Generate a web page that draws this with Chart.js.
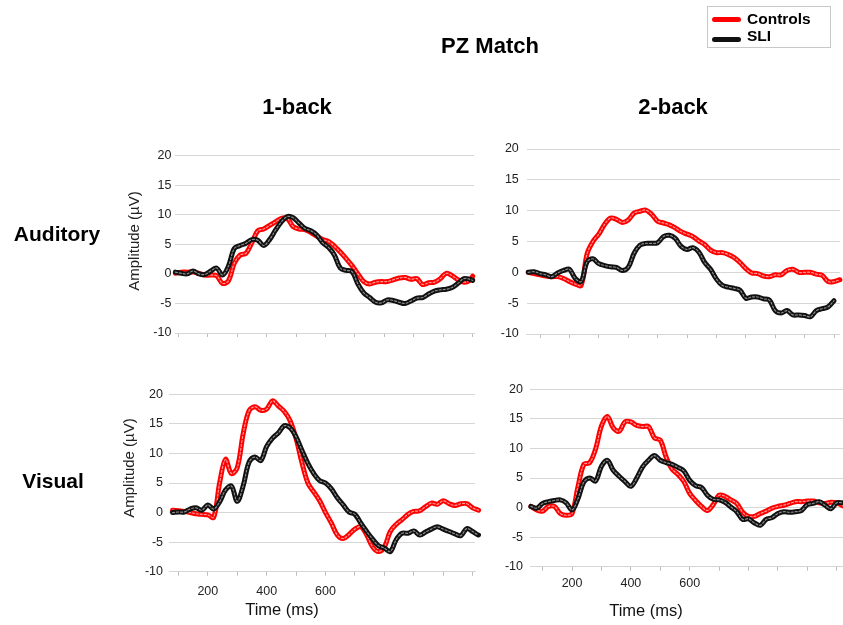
<!DOCTYPE html>
<html>
<head>
<meta charset="utf-8">
<script src="https://cdn.jsdelivr.net/npm/chart.js@4.4.1/dist/chart.umd.min.js"></script>
<style>
  html, body { margin: 0; padding: 0; background: #fff; width: 843px; height: 625px; overflow: hidden; position: relative; }
  canvas { position: absolute; left: 0; top: 0; }
  .lbl { position: absolute; transform: translate(-50%, -50%); white-space: nowrap; font-family: "Liberation Sans", Arial, sans-serif; color: #000; }
  .bold { font-weight: bold; font-size: 22px; }
  .ytitle { font-size: 15px; color: #222; transform: translate(-50%, -50%) rotate(-90deg); }
  .xtitle { font-size: 16.5px; color: #111; }
  #legend { position: absolute; left: 707px; top: 6px; width: 122px; height: 40px; border: 1px solid #c8c8c8; }
  .lgline { position: absolute; left: 4px; width: 29px; height: 5px; border-radius: 3px; }
  .lgtext { position: absolute; left: 39px; font: bold 15.5px "Liberation Sans", Arial, sans-serif; transform: translateY(-50%); }
</style>
</head>
<body>
<canvas id="c1" width="860" height="625"></canvas>
<canvas id="c2" width="860" height="625"></canvas>
<canvas id="c3" width="860" height="625"></canvas>
<canvas id="c4" width="860" height="625"></canvas>

<div class="lbl bold" style="left:490px; top:46px;">PZ Match</div>
<div class="lbl bold" style="left:297px; top:107px;">1-back</div>
<div class="lbl bold" style="left:673px; top:107px;">2-back</div>
<div class="lbl bold" style="left:57px; top:234px; font-size:21px;">Auditory</div>
<div class="lbl bold" style="left:53px; top:481px; font-size:21px;">Visual</div>
<div class="lbl ytitle" style="left:133px; top:241px;">Amplitude (µV)</div>
<div class="lbl ytitle" style="left:128px; top:468px;">Amplitude (µV)</div>
<div class="lbl xtitle" style="left:282px; top:609px;">Time (ms)</div>
<div class="lbl xtitle" style="left:646px; top:610px;">Time (ms)</div>

<div id="legend">
  <div class="lgline" style="top:10px; background:#ff0000;"></div>
  <div class="lgtext" style="top:12px;">Controls</div>
  <div class="lgline" style="top:30px; background:#111;"></div>
  <div class="lgtext" style="top:29px;">SLI</div>
</div>

<script>
// ---------- data (ms, µV) ----------
const seriesNames = ["Controls", "SLI"];
const yTicks = [-10, -5, 0, 5, 10, 15, 20];
const xTickLabels = [200, 400, 600];

// Auditory 1-back
const aud1Time = [90,110,130,150,170,190,210,230,250,270,290,310,330,350,370,390,410,430,450,470,490,510,530,550,570,590,610,630,650,670,690,710,730,750,770,790,810,830,850,870,890,910,930,950,970,990,1010,1030,1050,1070,1090,1100];
const aud1Ctrl = [0.1,0.3,0.3,0.3,0.1,-0.2,-0.2,-0.3,-1.6,-1.2,1.8,3.2,3.5,5.3,7.3,7.6,8.2,8.8,9.4,9.4,8.0,7.6,7.5,7.0,6.4,5.8,5.5,4.7,3.7,2.6,1.4,0.0,-1.3,-1.7,-1.4,-1.3,-1.3,-1.0,-0.7,-0.6,-0.9,-0.8,-1.8,-1.5,-1.4,-0.8,0.1,-0.3,-1.0,-1.4,-1.1,-0.4];
const aud1Sli  = [0.3,0.1,0.0,0.5,0.0,-0.1,0.5,1.0,-0.2,1.3,4.3,4.8,5.2,5.8,5.7,4.8,5.8,7.4,8.8,9.7,9.5,8.6,7.7,7.3,6.6,5.3,4.5,3.2,1.0,0.6,0.4,-1.7,-3.2,-4.0,-4.8,-4.9,-4.4,-4.5,-4.8,-5.0,-4.6,-4.1,-4.0,-3.4,-2.9,-2.7,-2.6,-2.3,-1.6,-0.8,-0.9,-1.1];

// Auditory 2-back
const aud2Time = [60,80,100,120,140,160,180,200,220,240,260,280,300,320,340,360,380,400,420,440,460,480,500,520,540,560,580,600,620,640,660,680,700,720,740,760,780,800,820,840,860,880,900,920,940,960,980,1000,1020,1040,1060,1080,1100,1120];
const aud2Ctrl = [0.0,-0.2,-0.4,-0.6,-0.7,-0.7,-1.0,-1.5,-1.9,-2.1,3.0,5.0,6.2,7.8,8.8,8.6,8.1,8.5,9.6,9.9,10.1,9.4,8.3,8.0,7.7,7.2,6.6,6.2,5.8,5.1,4.5,3.6,3.2,3.2,2.9,2.4,1.6,0.6,-0.1,-0.2,-0.6,-0.7,-0.4,-0.4,0.3,0.5,0.0,0.0,0.0,-0.3,-0.5,-1.5,-1.5,-1.2];
const aud2Sli  = [0.0,0.1,-0.2,-0.4,-0.7,-0.1,0.3,0.5,-1.0,-1.5,1.7,2.2,1.4,1.1,0.9,0.8,0.3,0.8,3.1,4.4,4.7,4.7,4.8,5.8,6.0,5.5,4.2,3.7,4.0,3.3,1.6,0.5,-1.1,-2.1,-2.4,-2.6,-2.9,-4.2,-4.0,-4.0,-4.3,-4.5,-6.2,-6.6,-6.2,-6.9,-6.9,-7.0,-7.2,-6.2,-5.9,-5.6,-4.6,null];

// Visual 1-back
const vis1Time = [80,100,120,140,160,180,200,220,240,260,280,300,320,340,360,380,400,420,440,460,480,500,520,540,560,580,600,620,640,660,680,700,720,740,760,780,800,820,840,860,880,900,920,940,960,980,1000,1020,1040,1060,1080,1100,1120,1135];
const vis1Ctrl = [0.4,0.3,0.2,0.0,-0.2,-0.3,-0.4,-0.8,5.0,9.0,6.6,7.6,13.3,17.2,17.9,17.3,17.5,18.9,18.0,17.1,15.5,12.5,8.4,5.0,3.5,2.0,0.0,-1.8,-3.8,-4.4,-3.7,-2.8,-2.4,-3.8,-5.8,-6.6,-5.8,-3.2,-2.0,-1.2,-0.3,0.2,0.3,1.0,1.6,1.4,2.0,1.5,1.2,1.5,1.5,0.8,0.4,null];
const vis1Sli  = [0.0,0.1,0.1,0.6,0.8,0.4,1.3,0.6,1.8,3.8,4.5,1.9,4.5,8.5,9.4,8.8,11.2,12.6,13.5,14.7,14.3,12.8,10.5,8.3,6.6,5.4,5.0,4.0,2.5,1.3,0.1,-0.3,-1.8,-3.2,-4.5,-5.6,-6.0,-6.6,-4.6,-3.5,-3.5,-3.1,-3.8,-3.3,-2.8,-2.4,-2.8,-3.2,-3.6,-3.9,-2.7,-3.2,-3.8,-3.8];

// Visual 2-back
const vis2Time = [60,80,100,120,140,160,180,200,220,240,260,280,300,320,340,360,380,400,420,440,460,480,500,520,540,560,580,600,620,640,660,680,700,720,740,760,780,800,820,840,860,880,900,920,940,960,980,1000,1020,1040,1060,1080,1100,1120];
const vis2Ctrl = [0.2,-0.4,-0.6,0.2,0.2,-1.0,-1.3,-1.0,3.5,7.3,7.6,9.9,13.8,15.4,13.5,12.9,14.5,14.5,13.9,13.7,13.7,11.8,11.4,8.5,6.5,5.6,4.4,2.4,1.2,0.2,-0.5,0.5,2.1,1.9,1.3,0.7,-0.8,-1.5,-1.5,-1.0,-0.6,-0.1,0.2,0.4,0.7,1.0,1.0,1.1,1.1,0.8,0.7,0.9,0.8,0.3];
const vis2Sli  = [0.2,-0.1,0.7,1.0,1.2,1.3,0.8,-0.4,1.5,4.3,5.0,4.5,7.0,8.0,6.3,5.3,4.4,3.6,5.0,6.9,8.0,8.8,8.0,7.6,7.3,6.8,6.2,4.6,3.7,3.4,2.1,1.4,1.3,0.9,0.1,-0.7,-2.0,-1.9,-2.6,-3.0,-2.0,-1.7,-1.0,-0.7,-0.8,-0.7,-0.5,0.5,0.7,1.0,0.4,-0.2,0.8,0.8];

// ---------- layout / style (pixels) ----------
const CW = 860, CH = 625, YW = 45, XH = 30;
const panels = [
  { id: "c1", time: aud1Time, ctrl: aud1Ctrl, sli: aud1Sli, L: 175.4, R: 474.2, T: 155.7, B: 333.0, xmin: 90, xmax: 1105, ypad: 4, xpad: 8, showX: false },
  { id: "c2", time: aud2Time, ctrl: aud2Ctrl, sli: aud2Sli, L: 526.8, R: 839.9, T: 149.0, B: 334.0, xmin: 55, xmax: 1120, ypad: 8, xpad: 8, showX: false },
  { id: "c3", time: vis1Time, ctrl: vis1Ctrl, sli: vis1Sli, L: 169.0, R: 475.0, T: 394.3, B: 571.7, xmin: 68, xmax: 1108, ypad: 6, xpad: 8.5, showX: true },
  { id: "c4", time: vis2Time, ctrl: vis2Ctrl, sli: vis2Sli, L: 530.0, R: 850.0, T: 389.3, B: 566.7, xmin: 57, xmax: 1145, ypad: 7, xpad: 5, showX: true }
];

const tickFont = { family: "'Liberation Sans', Arial, sans-serif", size: 12.5 };
const gridColor = "#d6d6d6";

function lineDs(label, data, color, width, dash) {
  return {
    label, data,
    borderColor: color, backgroundColor: color,
    borderWidth: width, borderDash: dash || [],
    pointRadius: 0, tension: 0.35, fill: false,
    clip: false, spanGaps: false,
    borderCapStyle: "round", borderJoinStyle: "round"
  };
}

panels.forEach(p => {
  new Chart(document.getElementById(p.id), {
    type: "line",
    data: {
      labels: p.time,
      datasets: [
        lineDs(seriesNames[1] + " core", p.sli, "#8c8c8c", 1.2, [2, 2]),
        lineDs(seriesNames[1], p.sli, "#111111", 5),
        lineDs(seriesNames[0] + " core", p.ctrl, "#ff9a9a", 1.2, [2, 2]),
        lineDs(seriesNames[0], p.ctrl, "#ff0000", 5)
      ]
    },
    options: {
      responsive: false,
      animation: false,
      devicePixelRatio: 1,
      events: [],
      layout: { padding: { left: p.L - YW, right: CW - p.R, top: p.T, bottom: CH - p.B - XH } },
      plugins: { legend: { display: false }, tooltip: { enabled: false }, title: { display: false } },
      scales: {
        x: {
          type: "linear",
          min: p.xmin, max: p.xmax,
          afterFit: s => { s.height = XH; },
          grid: { drawOnChartArea: false, drawTicks: true, tickLength: 4, color: "#bdbdbd" },
          border: { display: true, color: gridColor },
          ticks: {
            stepSize: 100, includeBounds: false, autoSkip: false, maxRotation: 0,
            padding: p.xpad, font: tickFont, color: "#222",
            callback: v => (p.showX && xTickLabels.includes(v)) ? String(v) : ""
          }
        },
        y: {
          min: yTicks[0], max: yTicks[yTicks.length - 1],
          afterFit: s => { s.width = YW; },
          afterBuildTicks: s => { s.ticks = yTicks.map(v => ({ value: v })); },
          grid: { drawTicks: false, color: gridColor },
          border: { display: false },
          ticks: { padding: p.ypad, font: tickFont, color: "#222" }
        }
      }
    }
  });
});
</script>
</body>
</html>
